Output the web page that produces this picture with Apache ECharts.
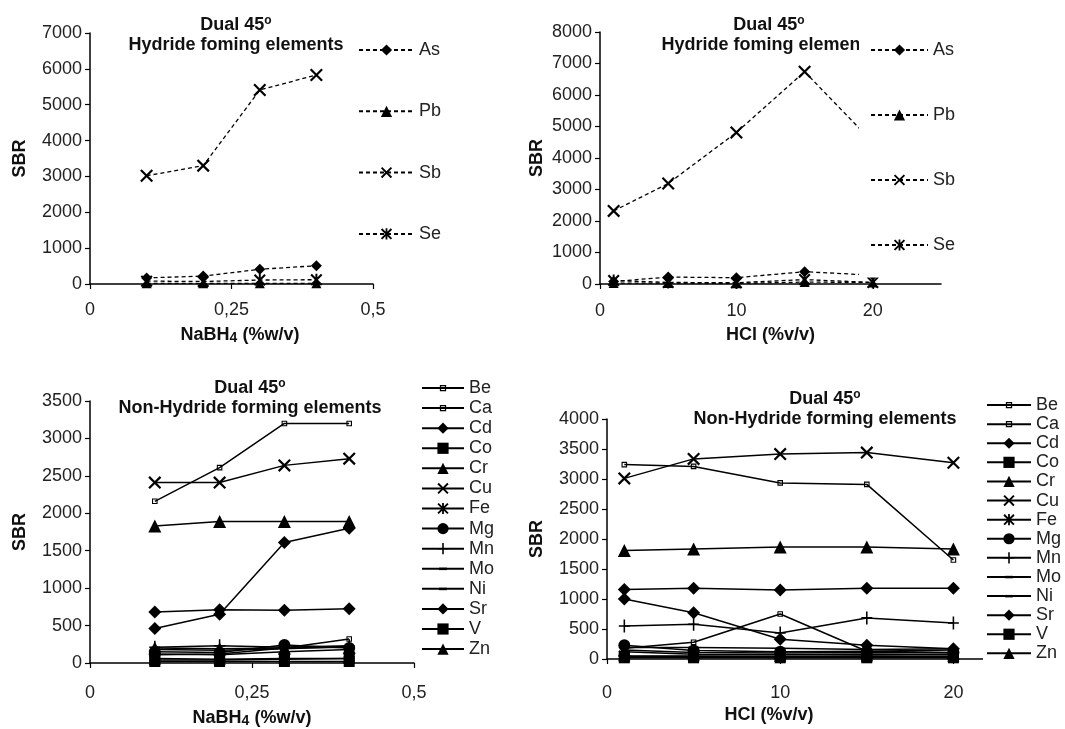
<!DOCTYPE html>
<html><head><meta charset="utf-8">
<script src="https://cdn.jsdelivr.net/npm/echarts@6/dist/echarts.min.js"></script>
<style>html,body{margin:0;padding:0;background:#fff}#c{width:1065px;height:729px}</style>
</head><body><div id="c"></div><script>
// ---------- data ----------
const xNaBH4 = [0.1, 0.2, 0.3, 0.4];
const xHCl = [1, 5, 10, 15, 20];
const hydrideNames = ['As', 'Pb', 'Sb', 'Se'];
const nonHydrideNames = ['Be','Ca','Cd','Co','Cr','Cu','Fe','Mg','Mn','Mo','Ni','Sr','V','Zn'];

// Panel 1: hydride forming, NaBH4
const hydNaBH4 = {
  As: [170, 220, 410, 510],
  Pb: [20, 20, 20, 20],
  Sb: [3020, 3300, 5410, 5830],
  Se: [80, 70, 110, 120]
};
// Panel 2: hydride forming, HCl
const hydHCl = {
  As: [80, 220, 200, 390, 280],
  Pb: [30, 30, 20, 60, 50],
  Sb: [2320, 3190, 4810, 6740, 4500],
  Se: [110, 50, 40, 140, 50]
};
// Panel 3: non-hydride forming, NaBH4
const nonNaBH4 = {
  Be: [2160, 2610, 3200, 3200],
  Ca: [110, 120, 200, 320],
  Cd: [680, 710, 705, 725],
  Co: [20, 20, 20, 20],
  Cr: [1830, 1890, 1890, 1890],
  Cu: [2410, 2410, 2640, 2730],
  Fe: [40, 40, 50, 60],
  Mg: [150, 140, 240, 200],
  Mn: [210, 230, 210, 230],
  Mo: [120, 110, 150, 180],
  Ni: [180, 170, 190, 220],
  Sr: [460, 650, 1610, 1800],
  V: [60, 50, 60, 60],
  Zn: [200, 190, 200, 210]
};
// Panel 4: non-hydride forming, HCl
const nonHCl = {
  Be: [3240, 3210, 2935, 2910, 1650],
  Ca: [180, 280, 750, 130, 150],
  Cd: [1160, 1180, 1150, 1180, 1180],
  Co: [20, 20, 20, 20, 20],
  Cr: [1810, 1835, 1865, 1865, 1835],
  Cu: [3010, 3335, 3415, 3440, 3270],
  Fe: [50, 50, 40, 50, 40],
  Mg: [230, 140, 120, 130, 110],
  Mn: [550, 580, 435, 685, 600],
  Mo: [190, 190, 180, 160, 170],
  Ni: [120, 80, 70, 80, 70],
  Sr: [1000, 770, 330, 230, 170],
  V: [40, 40, 40, 40, 40],
  Zn: [150, 110, 100, 110, 100]
};

// ---------- styles ----------
const FONT = '"Liberation Sans", Arial, Helvetica, sans-serif';
const INK = '#111';
const SYM_X = 'path://M0,0.12L0.12,0L1,0.88L0.88,1ZM0.88,0L1,0.12L0.12,1L0,0.88Z';
const SYM_AST = 'path://M0,0.12L0.12,0L1,0.88L0.88,1ZM0.88,0L1,0.12L0.12,1L0,0.88ZM0.42,0L0.58,0L0.58,1L0.42,1Z';
const SYM_PLUS = 'path://M0.43,0L0.57,0L0.57,1L0.43,1ZM0,0.44L1,0.44L1,0.56L0,0.56Z';
const SYM_DASH = 'path://M0,0L0,0M10,10L10,10M1.5,4L8.5,4L8.5,6.2L1.5,6.2Z';
const SYM_HOLLOW = 'path://M0,0L0,0M10,10L10,10M2.2,2.2L7.8,2.2L7.8,7.8L2.2,7.8ZM3.3,3.3L3.3,6.7L6.7,6.7L6.7,3.3Z';

const hydStyle = {
  As: {symbol: 'diamond', size: 11},
  Pb: {symbol: 'triangle', size: 10},
  Sb: {symbol: SYM_X, size: 13},
  Se: {symbol: SYM_AST, size: 12}
};
const nonStyle = {
  Be: {symbol: SYM_HOLLOW, size: 10},
  Ca: {symbol: SYM_HOLLOW, size: 10},
  Cd: {symbol: 'diamond', size: 13},
  Co: {symbol: 'rect', size: 11},
  Cr: {symbol: 'triangle', size: 13},
  Cu: {symbol: SYM_X, size: 13},
  Fe: {symbol: SYM_AST, size: 12},
  Mg: {symbol: 'circle', size: 12},
  Mn: {symbol: SYM_PLUS, size: [11, 13]},
  Mo: {symbol: SYM_DASH, size: 10},
  Ni: {symbol: SYM_DASH, size: 10},
  Sr: {symbol: 'diamond', size: 13},
  V: {symbol: 'rect', size: 11},
  Zn: {symbol: 'triangle', size: 13}
};

function mkSeries(name, xs, ys, st, idx, dashed) {
  return {
    type: 'line', name: name, xAxisIndex: idx, yAxisIndex: idx,
    data: xs.map((x, i) => [x, ys[i]]),
    symbol: st.symbol, symbolSize: st.size, showSymbol: true, showAllSymbol: true,
    lineStyle: {color: '#000', width: dashed ? 1.3 : 1.5, type: dashed ? [4, 3] : 'solid'},
    itemStyle: {color: '#000', borderWidth: 0},
    emphasis: {disabled: true}
  };
}

const series = [];
hydrideNames.forEach(n => series.push(mkSeries(n, xNaBH4, hydNaBH4[n], hydStyle[n], 0, true)));
hydrideNames.forEach(n => series.push(mkSeries(n, xHCl, hydHCl[n], hydStyle[n], 1, true)));
nonHydrideNames.forEach(n => series.push(mkSeries(n, xNaBH4, nonNaBH4[n], nonStyle[n], 2, false)));
nonHydrideNames.forEach(n => series.push(mkSeries(n, xHCl, nonHCl[n], nonStyle[n], 3, false)));

const richTitle = {
  a: {fontSize: 18, fontWeight: 'bold', fontFamily: FONT, color: INK, lineHeight: 20},
  s: {fontSize: 12, fontWeight: 'bold', fontFamily: FONT, color: INK, lineHeight: 10, verticalAlign: 'top'}
};
const richName = {
  a: {fontSize: 18, fontWeight: 'bold', fontFamily: FONT, color: INK, lineHeight: 20},
  b: {fontSize: 14, fontWeight: 'bold', fontFamily: FONT, color: INK, lineHeight: 12, verticalAlign: 'bottom'}
};
function mkTitle(line2, cx, top, z) {
  return {
    text: '{a|Dual 45}{s|o}\n{a|' + line2 + '}', left: cx, top: top, padding: 0,
    textAlign: 'center', textVerticalAlign: 'top', z: z,
    textStyle: {fontSize: 18, fontWeight: 'bold', fontFamily: FONT, color: INK, rich: richTitle}
  };
}

const axisCommon = {
  axisLine: {show: true, onZero: false, lineStyle: {color: '#000', width: 1.5}},
  axisTick: {show: true, inside: false, length: 5, lineStyle: {color: '#000', width: 1.2}},
  splitLine: {show: false}
};
function mkX(idx, max, interval, margin, nameText, nameGap, namePad, comma) {
  return Object.assign({}, axisCommon, {
    type: 'value', gridIndex: idx, min: 0, max: max, interval: interval,
    axisLabel: {margin: margin, fontSize: 18, fontFamily: FONT, color: '#222', showMaxLabel: max % interval === 0,
      formatter: comma ? (v => String(v).replace('.', ',')) : (v => String(v))},
    name: nameText, nameLocation: 'middle', nameGap: nameGap,
    nameTextStyle: {padding: namePad, rich: richName, fontSize: 18, fontWeight: 'bold', fontFamily: FONT, color: INK}
  });
}
function mkY(idx, max, interval, nameGap) {
  return Object.assign({}, axisCommon, {
    type: 'value', gridIndex: idx, min: 0, max: max, interval: interval,
    axisLabel: {margin: 8, fontSize: 18, fontFamily: FONT, color: '#222', formatter: v => String(v)},
    name: 'SBR', nameLocation: 'middle', nameRotate: 90, nameGap: nameGap,
    nameTextStyle: {fontSize: 18, fontWeight: 'bold', fontFamily: FONT, color: INK, lineHeight: 18}
  });
}
function mkLegend(names, left, top, itemWidth, lh, padding, bg) {
  const o = {
    data: names, orient: 'vertical', left: left, top: top, itemWidth: itemWidth, itemHeight: 14,
    itemGap: 0, padding: padding, selectedMode: false, z: 10,
    textStyle: {fontSize: 18, fontFamily: FONT, color: '#222', lineHeight: lh}
  };
  if (bg) o.backgroundColor = '#fff';
  return o;
}

const NaName = '{a|NaBH}{b|4}{a| (%w/v)}';
const HClName = '{a|HCl (%v/v)}';

const option = {
  animation: false,
  backgroundColor: '#fff',
  textStyle: {fontFamily: FONT},
  title: [
    mkTitle('Hydride foming elements', 236, 15, 6),
    mkTitle('Hydride foming elements', 769, 15, 1),
    mkTitle('Non-Hydride forming elements', 250, 378, 6),
    mkTitle('Non-Hydride forming elements', 825, 389, 1)
  ],
  grid: [
    {left: 90, top: 33, width: 283, height: 251},
    {left: 600, top: 32, width: 341, height: 252},
    {left: 90, top: 401, width: 324, height: 262},
    {left: 607, top: 419, width: 433, height: 240}
  ],
  xAxis: [
    mkX(0, 0.5, 0.25, 17, NaName, 41, [0, 0, 0, 17], true),
    mkX(1, 25, 10, 18, HClName, 41, 0, false),
    mkX(2, 0.5, 0.25, 21, NaName, 45, 0, true),
    mkX(3, 25, 10, 25, HClName, 46, [0, 109, 0, 0], false)
  ],
  yAxis: [
    mkY(0, 7000, 1000, 61),
    mkY(1, 8000, 1000, 54),
    mkY(2, 3500, 500, 61),
    mkY(3, 4000, 500, 61)
  ],
  legend: [
    mkLegend(hydrideNames, 358, 19.35, 55, 61.3, 0, false),
    mkLegend(hydrideNames, 859, 17.5, 57, 65, [0, 60, 0, 11], true),
    mkLegend(nonHydrideNames, 421, 378, 42, 20.08, 0, false),
    mkLegend(nonHydrideNames, 983, 395.5, 44, 19.1, [0, 40, 8, 3], true)
  ],
  series: series
};
echarts.init(document.getElementById('c')).setOption(option);
</script></body></html>
